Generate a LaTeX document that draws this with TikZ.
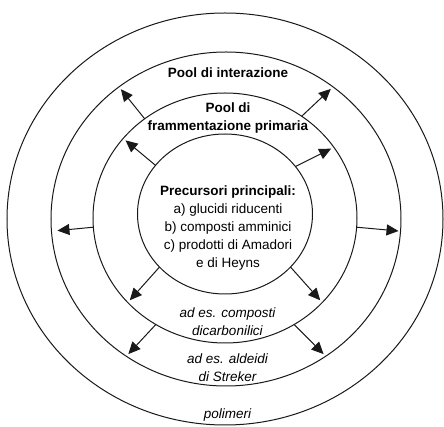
\documentclass[tikz,border=0pt]{standalone}
\usepackage{fontspec}
\setsansfont{Liberation Sans}
\usepackage{tikz}
\usetikzlibrary{shapes.geometric,arrows.meta}
\tikzset{
  every picture/.style={font={\sffamily\fontsize{13.5}{18}\selectfont},
    >={Triangle[length=12pt,width=11pt]}},
  every node/.style={outer sep=0pt}}

\begin{document}
\begin{tikzpicture}[x=1pt, y=1pt,
    ring/.style={draw=black!90, line width=1pt, ellipse, inner sep=0pt},
    flow/.style={->, draw=black!90, line width=1pt, shorten >=3pt},
    pool/.style={align=center, font={\sffamily\bfseries\fontsize{13.5}{18}\selectfont}},
    example/.style={align=center, font={\sffamily\itshape\fontsize{13.5}{18}\selectfont}}]

    \useasboundingbox (-225,-209) rectangle (219,218);

    % anelli
    \node[ring, minimum width=436, minimum height=412] (outer) at (0,-1) {};
    \node[ring, minimum width=350, minimum height=334] (second) at (1,-1) {};
    \node[ring, minimum width=264, minimum height=250] (third) at (0,0) {};
    \node[ring, minimum width=175, minimum height=160] (inner) at (0,4) {};

    % testi
    \node[pool] (interazione) at (3,145) {Pool di interazione};
    \node[pool] (frammentazione) at (3,100) {Pool di\\frammentazione primaria};
    \node[align=center] (precursori) at (3,-10)
    {{\bfseries Precursori principali:}\\a) glucidi riducenti\\b) composti amminici\\c) prodotti di Amadori\\e di Heyns};
    \node[example] (dicarbonilici) at (2.5,-103.5) {ad es. composti\\dicarbonilici};
    \node[example] (streker) at (2.5,-149.5) {ad es. aldeidi\\di Streker};
    \node[example] (polimeri) at (2.5,-197) {polimeri};

    % frecce
    \draw[flow] (inner.145) -- (third.142);
    \draw[flow] (inner.34) -- (third.33);
    \draw[flow] (inner.219) -- (third.221);
    \draw[flow] (inner.321) -- (third.319);
    \draw[flow] (third.129) -- (second.129);
    \draw[flow] (third.53) -- (second.51);
    \draw[flow] (third.237) -- (second.234);
    \draw[flow] (third.303) -- (second.306);
    \draw[flow, shorten >=6pt] (third.184) -- (second.184);
    \draw[flow, shorten >=2pt] (third.356) -- (second.356);
  \end{tikzpicture}
\end{document}
